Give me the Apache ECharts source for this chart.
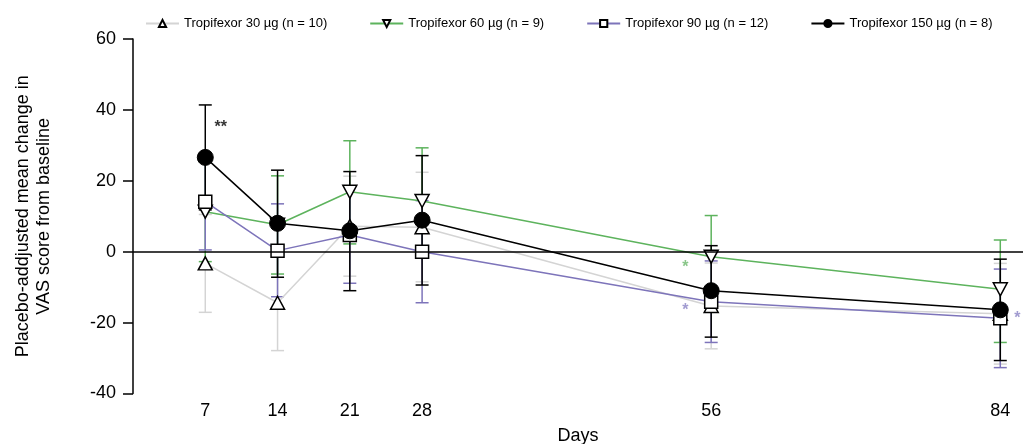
<!DOCTYPE html>
<html>
<head>
<meta charset="utf-8">
<script src="https://cdn.jsdelivr.net/npm/echarts@6/dist/echarts.min.js"></script>
<style>
html,body{margin:0;padding:0;background:#fff;}
#chart{width:1023px;height:444px;}
</style>
</head>
<body>
<div id="chart"></div>
<script>
const days = [7, 14, 21, 28, 56, 84];
const xTickLabels = [7, 14, 21, 28, 56, 84];
const yTicks = [-40, -20, 0, 20, 40, 60];

const seriesNames = ['Tropifexor 30 µg (n = 10)', 'Tropifexor 60 µg (n = 9)', 'Tropifexor 90 µg (n = 12)', 'Tropifexor 150 µg (n = 8)'];

const mean30 = [-3.3, -14.4, 7.2, 6.9, -15.3, -17.5];
const low30 = [-17.1, -27.9, -6.9, -8.5, -27.4, -31.7];
const high30 = [10.5, -0.9, 21.3, 22.4, -3.2, -3.3];

const mean60 = [11.3, 7.6, 16.9, 14.3, -1.4, -10.6];
const low60 = [-2.8, -6.3, 2.2, -0.7, -13.0, -25.6];
const high60 = [25.4, 21.4, 31.3, 29.3, 10.2, 3.3];

const mean90 = [14.1, 0.3, 4.7, 0.0, -14.1, -18.8];
const low90 = [0.5, -12.7, -8.9, -14.4, -25.6, -32.7];
const high90 = [27.1, 13.5, 18.6, 14.4, -2.6, -4.9];

const mean150 = [26.6, 8.0, 5.9, 8.9, -11.0, -16.4];
const low150 = [11.8, -7.2, -11.0, -9.4, -24.1, -30.7];
const high150 = [41.4, 23.0, 22.6, 27.1, 1.7, -2.1];

// significance annotations: day, value, text, group index
const annotDay = [8.5, 53.5, 53.5, 85.65];
const annotVal = [34.9, -4.6, -16.7, -19.0];
const annotText = ['**', '*', '*', '*'];
const annotGroup = [3, 1, 2, 2];

const FONT = '"Liberation Sans", Arial, sans-serif';
const lineColors = ['#d4d4d4', '#5db35d', '#7d74ba', '#000000'];
const barColors = ['#d4d4d4', '#5db35d', '#7d74ba', '#000000'];
const annotColors = ['#000', '#6cb86c', '#8a82c4', '#000'];

function pairs(ys) { return days.map((d, i) => [d, ys[i]]); }
function bars(lo, hi) { return days.map((d, i) => [d, lo[i], hi[i]]); }

function errorSeries(lo, hi, color) {
  return {
    type: 'custom',
    silent: true,
    z: 1,
    data: bars(lo, hi),
    renderItem: function (params, api) {
      const x = api.value(0);
      const a = api.coord([x, api.value(1)]);
      const b = api.coord([x, api.value(2)]);
      const w = 6.5;
      const st = { stroke: color, lineWidth: 1.5 };
      return {
        type: 'group',
        children: [
          { type: 'line', shape: { x1: a[0], y1: a[1], x2: b[0], y2: b[1] }, style: st },
          { type: 'line', shape: { x1: a[0] - w, y1: a[1], x2: a[0] + w, y2: a[1] }, style: st },
          { type: 'line', shape: { x1: b[0] - w, y1: b[1], x2: b[0] + w, y2: b[1] }, style: st }
        ]
      };
    }
  };
}

const markerStyle = { color: '#ffffff', borderColor: '#000000', borderWidth: 1.5 };

const chart = echarts.init(document.getElementById('chart'), null, { renderer: 'canvas' });

const option = {
  animation: false,
  backgroundColor: '#ffffff',
  textStyle: { fontFamily: FONT },
  legend: {
    top: 12,
    left: 140,
    itemGap: 42,
    itemWidth: 33,
    itemHeight: 9,
    textStyle: { fontFamily: FONT, fontSize: 13, color: '#000' },
    data: seriesNames
  },
  grid: { left: 133, right: 0, top: 39, bottom: 50.5, containLabel: false, outerBoundsMode: 'none' },
  xAxis: {
    type: 'value',
    min: 0,
    max: 86.2,
    name: 'Days',
    nameLocation: 'middle',
    nameGap: 33.5,
    nameTextStyle: { fontFamily: FONT, fontSize: 18, color: '#000' },
    axisLine: { show: false },
    axisTick: { show: false },
    splitLine: { show: false },
    axisLabel: {
      customValues: xTickLabels,
      fontFamily: FONT, fontSize: 18, color: '#000', margin: 8.5
    }
  },
  yAxis: {
    type: 'value',
    min: -40,
    max: 60,
    interval: 20,
    name: 'Placebo-addjusted mean change in\nVAS score from baseline',
    nameLocation: 'middle',
    nameGap: 78,
    nameTextStyle: { fontFamily: FONT, fontSize: 18, color: '#000', lineHeight: 21, align: 'center' },
    axisLine: { show: true, onZero: false, lineStyle: { color: '#000', width: 1.5 } },
    axisTick: { show: true, inside: false, length: 10, lineStyle: { color: '#000', width: 1.5 } },
    splitLine: { show: false },
    axisLabel: {
      customValues: yTicks,
      fontFamily: FONT, fontSize: 18, color: '#000', margin: 17
    }
  },
  series: [
    errorSeries(low30, high30, barColors[0]),
    errorSeries(low60, high60, barColors[1]),
    errorSeries(low90, high90, barColors[2]),
    errorSeries(low150, high150, barColors[3]),
    {
      name: seriesNames[0], type: 'line', z: 3, data: pairs(mean30),
      symbol: 'triangle', symbolSize: [14, 13],
      lineStyle: { color: lineColors[0], width: 1.5 },
      itemStyle: markerStyle,
      markLine: {
        silent: true, symbol: 'none', label: { show: false },
        lineStyle: { color: '#000', width: 1.5, type: 'solid' },
        data: [{ yAxis: 0 }]
      }
    },
    {
      name: seriesNames[1], type: 'line', z: 3, data: pairs(mean60),
      symbol: 'triangle', symbolRotate: 180, symbolSize: [14, 13],
      lineStyle: { color: lineColors[1], width: 1.5 },
      itemStyle: markerStyle
    },
    {
      name: seriesNames[2], type: 'line', z: 3, data: pairs(mean90),
      symbol: 'rect', symbolSize: 13,
      lineStyle: { color: lineColors[2], width: 1.5 },
      itemStyle: markerStyle
    },
    {
      name: seriesNames[3], type: 'line', z: 3, data: pairs(mean150),
      symbol: 'circle', symbolSize: 16,
      lineStyle: { color: lineColors[3], width: 1.5 },
      itemStyle: { color: '#000', borderColor: '#000', borderWidth: 1 }
    },
    {
      type: 'scatter', z: 4, silent: true, symbolSize: 0,
      data: annotDay.map((d, i) => ({
        value: [d, annotVal[i]],
        label: {
          show: true, position: 'inside', formatter: annotText[i],
          fontFamily: FONT, fontSize: 16, fontWeight: 'bold',
          color: annotColors[annotGroup[i]]
        }
      }))
    }
  ]
};
chart.setOption(option);
</script>
</body>
</html>
